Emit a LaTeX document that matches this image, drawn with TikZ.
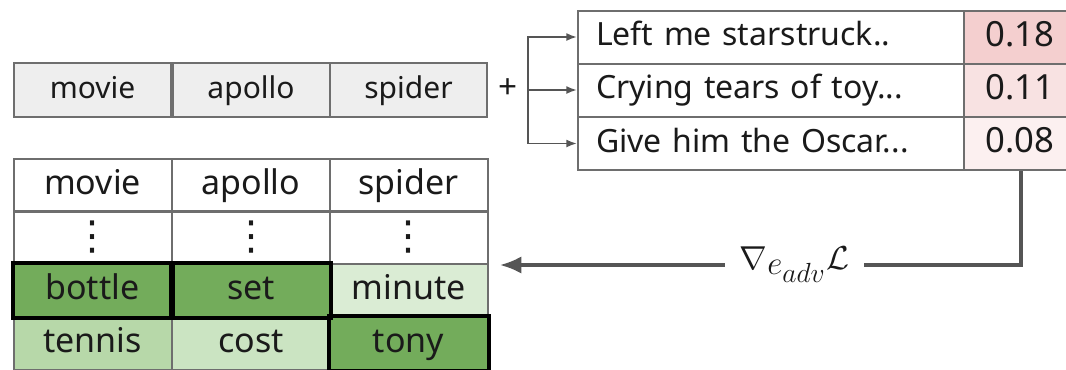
\documentclass[tikz,border=0pt]{standalone}
\usepackage{fontspec}
\setmainfont{Noto Sans}
\newfontfamily\dotsfont{DejaVu Sans}
\usetikzlibrary{arrows.meta}
\definecolor{edgegray}{HTML}{6E6E6E}
\definecolor{arrowgray}{HTML}{555555}
\definecolor{tokgray}{HTML}{EEEEEE}
\definecolor{inkc}{HTML}{1A1A1A}
\definecolor{redA}{HTML}{F4CFCF}
\definecolor{redB}{HTML}{F8E2E2}
\definecolor{redC}{HTML}{FCF0F0}
\definecolor{greenD}{HTML}{73AC5B}
\definecolor{greenM}{HTML}{B7D8A9}
\definecolor{greenL}{HTML}{CBE4C2}
\definecolor{greenXL}{HTML}{DAECD4}
\tikzset{
  cellbox/.style={draw=edgegray, line width=1.5pt, inner sep=0pt, text=inkc,
    minimum height=#1*0.75pt, anchor=center},
  tokcell/.style={cellbox=54, minimum width=157*0.75pt, fill=tokgray,
    font=\fontsize{22.5}{26}\selectfont, text height=16.5pt, text depth=4.5pt},
  vocab/.style={cellbox=53, minimum width=158*0.75pt,
    font=\fontsize{25.5}{29}\selectfont, text height=19pt, text depth=5pt},
  sentcell/.style={cellbox=53, minimum width=387*0.75pt, text width=351*0.75pt, align=left,
    font=\fontsize{24}{27}\selectfont, text height=17.5pt, text depth=4.5pt},
  scorecell/.style={cellbox=53, minimum width=112*0.75pt,
    font=\fontsize{26}{30}\selectfont, text height=16.5pt, text depth=2.5pt},
  picked/.style={draw=black, line width=3pt},
  branch/.style={draw=arrowgray, line width=1.4pt, -{Latex[length=8pt,width=6pt]}},
  gradarrow/.style={draw=arrowgray, line width=2.3pt, -{Latex[length=16pt,width=13pt]}},
}
\newcommand{\colrow}{{\dotsfont\fontsize{30}{34}\selectfont ⋮}}
\begin{document}
\begin{tikzpicture}[x=0.75pt, y=-0.75pt]
\useasboundingbox (0,0) rectangle (1066,369);
\clip (0,0) rectangle (1066,369);

% current adversarial tokens
\node[tokcell] (q1) at (92.5,90) {movie};
\node[tokcell] (q2) at (251,90) {apollo};
\node[tokcell] (q3) at (408.5,90) {spider};
\node[text=inkc, font=\fontsize{25}{28}\selectfont] (plus) at (508,89) {+};

% sentences and their scores
\node[sentcell] (s1) at (771.5,37) {Left me starstruck..};
\node[sentcell] (s2) at (771.5,90) {Crying tears of toy...};
\node[sentcell] (s3) at (771.5,143.5) {Give him the Oscar...};
\node[scorecell, fill=redA] (p1) at (1020,37) {0.18};
\node[scorecell, fill=redB] (p2) at (1020,90) {0.11};
\node[scorecell, fill=redC] (p3) at (1020,143.5) {0.08};

% fan-out to every sentence
\coordinate (fan) at (528,90);
\draw[branch] (fan) |- (s1.west);
\draw[branch] (fan) -- (s2.west);
\draw[branch] (fan) |- (s3.west);

% candidate table
\node[vocab] (h1) at (92.5,185) {movie};
\node[vocab] (h2) at (251,185) {apollo};
\node[vocab] (h3) at (408.5,185) {spider};
\node[cellbox=53, minimum width=158*0.75pt] (d1) at (92.5,237.5) {\colrow};
\node[cellbox=53, minimum width=158*0.75pt] (d2) at (251,237.5) {\colrow};
\node[cellbox=53, minimum width=158*0.75pt] (d3) at (408.5,237.5) {\colrow};
\node[vocab, fill=greenD] (c1) at (92.5,290) {bottle};
\node[vocab, fill=greenD] (c2) at (251,290) {set};
\node[vocab, fill=greenXL] (c3) at (408.5,290) {minute};
\node[vocab, fill=greenM] (e1) at (92.5,343.5) {tennis};
\node[vocab, fill=greenL] (e2) at (251,343.5) {cost};
\node[vocab, fill=greenD] (e3) at (408.5,343.5) {tony};

% chosen replacements
\draw[picked] (c1.north west) rectangle (c1.south east);
\draw[picked] (c2.north west) rectangle (c2.south east);
\draw[picked] (e3.north west) rectangle (e3.south east);

% gradient flowing back to the table
\coordinate (turn) at (1021,265);
\coordinate (tip) at (500,265);
\draw[gradarrow] (p3.south -| turn) -- (turn) -- (tip)
  node[pos=0.435, fill=white, inner xsep=11pt, inner ysep=0pt, text=inkc, font=\fontsize{42}{46}\selectfont] (grad) {$\nabla_{e_{adv}}\mathcal{L}$};
\end{tikzpicture}
\end{document}
